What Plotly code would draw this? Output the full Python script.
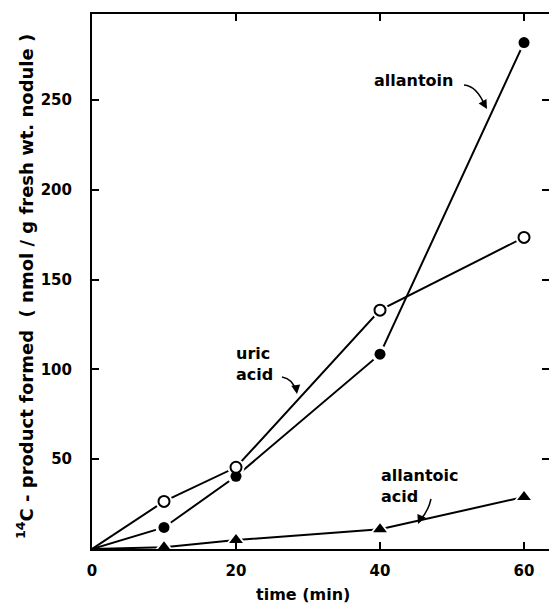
import plotly.graph_objects as go

# ---- data ----
time_min = [0, 10, 20, 40, 60]
allantoin = [0, 12, 40.5, 108.5, 282]
uric_acid = [0, 26.5, 45.5, 133, 173.5]
allantoic_acid = [0, 1, 5, 11, 29]

x_ticks = [0, 20, 40, 60]
y_ticks = [50, 100, 150, 200, 250]

W, H = 549, 605
L, R, T, B = 92, 0, 14, 56
XMAX = 63.47
YMAX = 297.9
FONT = "DejaVu Sans"


def px(x, y):
    """pixel -> paper coords"""
    return (x - L) / (W - L - R), (H - B - y) / (H - T - B)


fig = go.Figure()

series = [
    (allantoin, "circle", 11),
    (uric_acid, "circle-open", 11),
    (allantoic_acid, "triangle-up", 12),
]

for vals, sym, sz in series:
    fig.add_trace(go.Scatter(x=time_min, y=vals, mode="lines",
                             line=dict(color="black", width=2), hoverinfo="skip",
                             showlegend=False))
for vals, sym, sz in series:
    fig.add_trace(go.Scatter(x=time_min[1:], y=vals[1:], mode="markers",
                             marker=dict(symbol="triangle-up" if sym == "triangle-up" else "circle",
                                         size=sz + 6, color="white"),
                             hoverinfo="skip", showlegend=False))
for vals, sym, sz in series:
    if sym == "circle-open":
        mk = dict(symbol="circle", size=sz, color="white", line=dict(color="black", width=2))
    else:
        mk = dict(symbol=sym, size=sz, color="black", line=dict(width=0))
    fig.add_trace(go.Scatter(x=time_min[1:], y=vals[1:], mode="markers",
                             marker=mk, showlegend=False))

# dummy trace for mirrored axes
fig.add_trace(go.Scatter(x=[None], y=[None], xaxis="x2", yaxis="y2", showlegend=False))

tick_font = dict(family=FONT, size=15, weight="bold", color="black")

fig.update_layout(
    width=W, height=H,
    margin=dict(l=L, r=R, t=T, b=B, pad=0),
    paper_bgcolor="white", plot_bgcolor="white",
    font=dict(family=FONT, color="black", size=16),
    xaxis=dict(range=[0, XMAX], tickvals=x_ticks, ticks="inside", ticklen=7,
               tickwidth=2, tickcolor="black", showline=True, linewidth=2,
               linecolor="black", showgrid=False, zeroline=False,
               tickfont=tick_font, ticklabelstandoff=7),
    yaxis=dict(range=[0, YMAX], tickvals=y_ticks, ticks="inside", ticklen=7,
               tickwidth=2, tickcolor="black", showline=True, linewidth=2,
               linecolor="black", showgrid=False, zeroline=False,
               tickfont=tick_font, ticklabelstandoff=15),
    xaxis2=dict(overlaying="x", side="top", range=[0, XMAX], tickvals=x_ticks[1:],
                ticks="inside", ticklen=7, tickwidth=2, tickcolor="black",
                showline=True, linewidth=2, linecolor="black", showticklabels=False,
                showgrid=False, zeroline=False),
    yaxis2=dict(overlaying="y", side="right", range=[0, YMAX], tickvals=y_ticks,
                ticks="inside", ticklen=7, tickwidth=2, tickcolor="black",
                showline=False, showticklabels=False, showgrid=False, zeroline=False),
)

ann_font = dict(family=FONT, size=16, color="black", weight="bold")

# axis titles
xx, yy = px(303, 594)
fig.add_annotation(text="time (min)", x=xx, y=yy, xref="paper", yref="paper",
                   showarrow=False, font=dict(family=FONT, size=16, weight="bold"),
                   xanchor="center", yanchor="middle")
xx, yy = px(25, 287)
fig.add_annotation(text="<sup>14</sup>C - product formed  ( nmol / g fresh wt. nodule )",
                   x=xx, y=yy, xref="paper", yref="paper", textangle=-90,
                   showarrow=False, font=dict(family=FONT, size=18, weight="bold"),
                   xanchor="center", yanchor="middle")

# series labels
xx, yy = px(455, 81)
fig.add_annotation(text="allantoin", x=xx, y=yy, xref="paper", yref="paper",
                   showarrow=False, font=ann_font, xanchor="right", yanchor="middle")
xx, yy = px(234, 364)
fig.add_annotation(text="uric<br>acid", x=xx, y=yy, xref="paper", yref="paper",
                   showarrow=False, font=ann_font, xanchor="left", yanchor="middle",
                   align="left")
xx, yy = px(379, 486)
fig.add_annotation(text="allantoic<br>acid", x=xx, y=yy, xref="paper", yref="paper",
                   showarrow=False, font=ann_font, xanchor="left", yanchor="middle",
                   align="left")


def curve(p0, p1, p2):
    a = px(*p0); b = px(*p1); c = px(*p2)
    path = f"M {a[0]},{a[1]} Q {b[0]},{b[1]} {c[0]},{c[1]}"
    fig.add_shape(type="path", path=path, xref="paper", yref="paper",
                  line=dict(color="black", width=1.5))


def head(tip, frm):
    t = px(*tip)
    fig.add_annotation(x=t[0], y=t[1], xref="paper", yref="paper", text="",
                       showarrow=True, arrowhead=2, arrowsize=1.2, arrowwidth=1.5,
                       arrowcolor="black", ax=frm[0] - tip[0], ay=frm[1] - tip[1],
                       standoff=0)


curve((464, 85), (477, 86), (485, 106))
head((487, 109), (483, 102))
curve((282, 377), (293, 379), (296, 391))
head((297, 394), (296, 387))
curve((431, 499), (428, 512), (420, 520))
head((418, 524), (421, 517))

fig.write_html("out.html")
